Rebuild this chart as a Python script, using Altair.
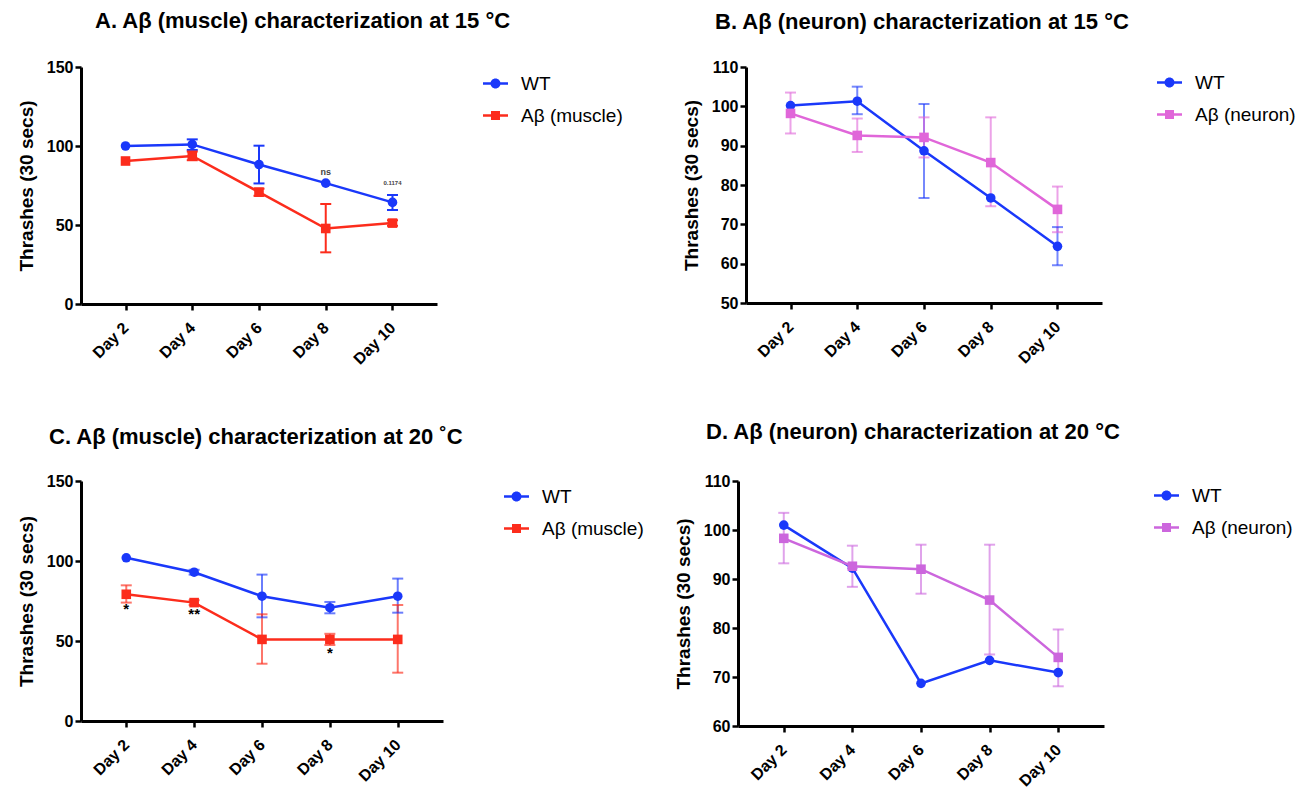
import altair as alt
import pandas as pd

FONT = "Liberation Sans"
BLUE = "#1a38fa"
RED = "#fc2c1c"
PINK_B = "#e066d9"
PINK_D = "#cc66dd"

days = ["Day 2", "Day 4", "Day 6", "Day 8", "Day 10"]

# Panel A: A-beta (muscle) at 15 C
a_series = ["WT", "Aβ (muscle)"]
a_wt_mean = [100.0, 101.0, 88.3, 76.5, 64.3]
a_wt_lo = [None, 97.5, 76.3, None, 59.5]
a_wt_hi = [None, 104.2, 100.2, None, 69.0]
a_ab_mean = [90.5, 93.7, 70.8, 47.8, 51.2]
a_ab_lo = [None, 91.0, 68.5, 32.7, 49.5]
a_ab_hi = [None, 96.5, 73.0, 63.3, 53.0]
a_note_day = ["Day 8", "Day 10"]
a_note_y = [83.5, 76.5]
a_note_text = ["ns", "0.1174"]
a_note_size = [9, 6]

# Panel B: A-beta (neuron) at 15 C
b_series = ["WT", "Aβ (neuron)"]
b_wt_mean = [100.2, 101.3, 88.7, 76.7, 64.4]
b_wt_lo = [None, 98.0, 76.7, None, 59.6]
b_wt_hi = [None, 105.0, 100.6, None, 69.3]
b_ab_mean = [98.2, 92.6, 92.1, 85.7, 73.8]
b_ab_lo = [93.1, 88.4, 87.0, 74.6, 68.0]
b_ab_hi = [103.5, 96.9, 97.2, 97.2, 79.6]

# Panel C: A-beta (muscle) at 20 C
c_series = ["WT", "Aβ (muscle)"]
c_wt_mean = [102.0, 93.0, 78.0, 70.8, 78.0]
c_wt_lo = [None, 91.5, 64.8, 67.3, 67.7]
c_wt_hi = [None, 94.5, 91.5, 74.4, 89.0]
c_ab_mean = [79.2, 74.0, 51.0, 51.0, 51.0]
c_ab_lo = [74.0, 72.5, 35.8, 47.5, 30.2]
c_ab_hi = [84.8, 75.5, 66.7, 54.5, 72.5]
c_note_day = ["Day 2", "Day 4", "Day 8"]
c_note_y = [70.0, 67.0, 42.5]
c_note_text = ["*", "**", "*"]
c_note_size = [15, 15, 15]

# Panel D: A-beta (neuron) at 20 C
d_series = ["WT", "Aβ (neuron)"]
d_wt_mean = [101.0, 92.2, 68.7, 73.4, 70.9]
d_wt_lo = [None, None, None, None, None]
d_wt_hi = [None, None, None, None, None]
d_ab_mean = [98.3, 92.6, 92.0, 85.7, 74.0]
d_ab_lo = [93.2, 88.4, 87.0, 74.6, 68.1]
d_ab_hi = [103.5, 96.8, 97.0, 97.0, 79.7]

CIRCLE_LINE = ("M-1,-0.1H1V0.1H-1Z "
               "M0.4,0A0.4,0.4 0 1,1 -0.4,0A0.4,0.4 0 1,1 0.4,0Z")
SQUARE_LINE = ("M-1,-0.1H1V0.1H-1Z "
               "M-0.36,-0.36H0.36V0.36H-0.36Z")


def build_df(series, means, los, his):
    rows = []
    for s, m, lo, hi in zip(series, means, los, his):
        for d, mv, lv, hv in zip(days, m, lo, hi):
            rows.append({"Day": d, "Series": s, "Mean": mv, "Lo": lv, "Hi": hv})
    return pd.DataFrame(rows)


def panel(series, colors, means, los, his, ydomain, yvalues, width, height,
          title, title_dx, title_offset, leg_x, leg_y, err_opacity,
          notes=None):
    df = build_df(series, means, los, his)
    base = alt.Chart(df)
    x = alt.X("Day:N", sort=days,
              scale=alt.Scale(type="point", padding=0.667),
              axis=alt.Axis(title=None, labelAngle=-45, labelAlign="right",
                            labelBaseline="middle", labelPadding=15))
    y_axis = alt.Axis(title="Thrashes (30 secs)", values=yvalues,
                      tickCount=len(yvalues), titlePadding=10,
                      labelOverlap=False)
    yscale = alt.Scale(domain=ydomain, nice=False, zero=False)
    col = alt.Color("Series:N", scale=alt.Scale(domain=series, range=colors),
                    legend=None)
    shp = alt.Shape("Series:N",
                    scale=alt.Scale(domain=series, range=["circle", "square"]),
                    legend=None)

    err_base = base.transform_filter("isValid(datum.Lo)")
    rule = err_base.mark_rule(strokeWidth=2, opacity=err_opacity).encode(
        x=x, y=alt.Y("Lo:Q", scale=yscale, axis=y_axis), y2="Hi:Q", color=col)
    tick_lo = err_base.mark_tick(size=11, thickness=2, orient="horizontal",
                                 opacity=err_opacity).encode(
        x=x, y=alt.Y("Lo:Q", scale=yscale, axis=y_axis), color=col)
    tick_hi = err_base.mark_tick(size=11, thickness=2, orient="horizontal",
                                 opacity=err_opacity).encode(
        x=x, y=alt.Y("Hi:Q", scale=yscale, axis=y_axis), color=col)
    line = base.mark_line(strokeWidth=2.5).encode(
        x=x, y=alt.Y("Mean:Q", scale=yscale, axis=y_axis), color=col,
        detail="Series:N")
    pts = base.mark_point(filled=True, size=92, opacity=1).encode(
        x=x, y=alt.Y("Mean:Q", scale=yscale, axis=y_axis), color=col, shape=shp)

    leg_props = dict(orient="none", legendX=leg_x, legendY=leg_y,
                     title=None, labelFont=FONT, labelFontSize=19,
                     labelColor="black", symbolSize=625,
                     symbolStrokeWidth=0, rowPadding=9, labelOffset=13,
                     padding=0)
    leg_col = alt.Color(
        "Series:N", scale=alt.Scale(domain=series, range=colors),
        legend=alt.Legend(**leg_props))
    leg_shp = alt.Shape(
        "Series:N",
        scale=alt.Scale(domain=series, range=[CIRCLE_LINE, SQUARE_LINE]),
        legend=alt.Legend(**leg_props))
    leg = base.transform_filter("false").mark_point(filled=True, opacity=1).encode(
        x=x, y=alt.Y("Mean:Q", scale=yscale, axis=y_axis),
        color=leg_col, shape=leg_shp)

    layers = [rule, tick_lo, tick_hi, line, pts]
    if notes is not None:
        nd = pd.DataFrame({"Day": notes[0], "Y": notes[1], "Text": notes[2],
                           "Size": notes[3]})
        txt = alt.Chart(nd).mark_text(font=FONT, baseline="middle",
                                      align="center", fontWeight="bold").encode(
            x=x, y=alt.Y("Y:Q", scale=yscale, axis=y_axis), text="Text:N",
            size=alt.Size("Size:Q", scale=None, legend=None),
            color=alt.value("#444444") if notes[2][0] == "ns" else alt.value("black"))
        layers.append(txt)
    layers.append(leg)
    return alt.layer(*layers).resolve_scale(
        color="independent", shape="independent").properties(
        width=width, height=height,
        title=alt.Title(title, anchor="start", frame="group", dx=title_dx,
                        offset=title_offset, font=FONT, fontSize=22,
                        fontWeight="bold", color="black"))


pA = panel(a_series, [BLUE, RED], [a_wt_mean, a_ab_mean], [a_wt_lo, a_ab_lo],
           [a_wt_hi, a_ab_hi], [0, 150], [0, 50, 100, 150], 356, 237,
           "A. Aβ (muscle) characterization at 15 °C", 14, 26, 402, 4, 1.0,
           notes=(a_note_day, a_note_y, a_note_text, a_note_size))
pB = panel(b_series, [BLUE, PINK_B], [b_wt_mean, b_ab_mean], [b_wt_lo, b_ab_lo],
           [b_wt_hi, b_ab_hi], [50, 110], [50, 60, 70, 80, 90, 100, 110], 356, 236,
           "B. Aβ (neuron) characterization at 15 °C", -31, 25, 411, 3, 0.6)
pC = panel(c_series, [BLUE, RED], [c_wt_mean, c_ab_mean], [c_wt_lo, c_ab_lo],
           [c_wt_hi, c_ab_hi], [0, 150], [0, 50, 100, 150], 362, 240,
           "C. Aβ (muscle) characterization at 20 ˚C", -32, 24, 423, 3, 0.65,
           notes=(c_note_day, c_note_y, c_note_text, c_note_size))
pD = panel(d_series, [BLUE, PINK_D], [d_wt_mean, d_ab_mean], [d_wt_lo, d_ab_lo],
           [d_wt_hi, d_ab_hi], [60, 110], [60, 70, 80, 90, 100, 110], 366, 245,
           "D. Aβ (neuron) characterization at 20 °C", -32, 29, 416, 2, 0.6)

row1 = alt.hconcat(pA, pB, spacing=59)
row2 = alt.hconcat(pC, pD, spacing=30)
chart = alt.vconcat(row1, row2, spacing=53).properties(
    padding={"left": 9, "top": 2, "right": 0, "bottom": 0},
    background="white"
).configure_view(stroke=None).configure_axis(
    domainColor="black", domainWidth=3, tickColor="black", tickWidth=2.5,
    tickSize=6, labelFont=FONT, labelFontSize=16, labelFontWeight="bold",
    labelColor="black", titleFont=FONT, titleFontSize=19,
    titleFontWeight="bold", titleColor="black", grid=False,
    labelOverlap=False
)

chart.save("out.html", embed_options={"renderer": "svg", "actions": False})
